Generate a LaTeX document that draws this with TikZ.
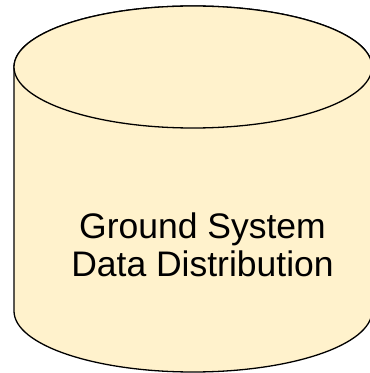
\documentclass[tikz,border=0pt]{standalone}
\usepackage{fontspec}
\setmainfont{Liberation Sans}
\definecolor{cylfill}{HTML}{FFF2CC}
\begin{document}
\begin{tikzpicture}[x=1pt,y=1pt,
  cyl/.style={fill=cylfill,draw=black,line width=1.3pt,line join=round},
  lbl/.style={font=\fontsize{35.5}{38}\selectfont,align=center,text=black}]
\useasboundingbox (0,0) rectangle (370,373);
\clip (0,0) rectangle (370,373);
\path[cyl] (14,306) -- (14,62) arc[start angle=180,end angle=360,x radius=179,y radius=61]
  -- (372,306) arc[start angle=0,end angle=180,x radius=179,y radius=61] -- cycle;
\draw[cyl] (193,306) ellipse[x radius=179,y radius=61];
\node[lbl] (label) at (202.5,128) {Ground System\\Data Distribution};
\end{tikzpicture}
\end{document}
